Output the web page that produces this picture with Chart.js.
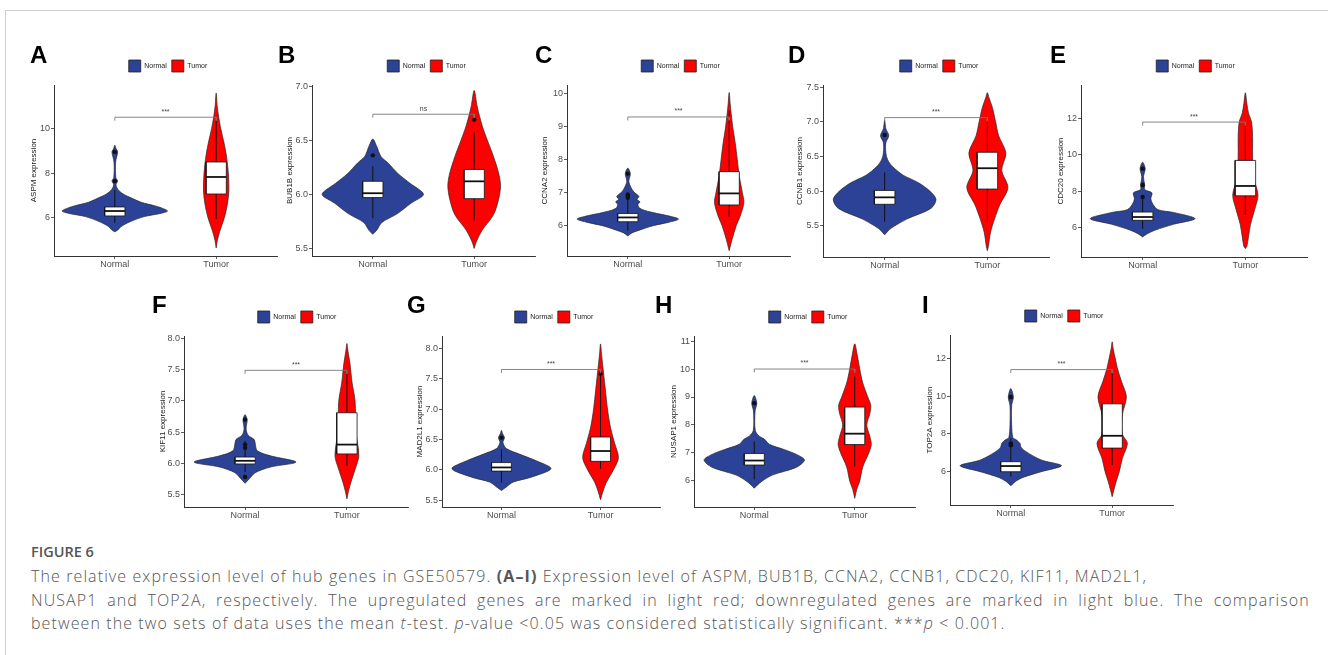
<!DOCTYPE html>
<html>
<head>
<meta charset="utf-8">
<title>Figure 6 - hub gene expression</title>
<script src="https://cdn.jsdelivr.net/npm/chart.js"></script>
<style>
  body { margin: 0; background: #fff; width: 1328px; height: 655px; position: relative; overflow: hidden; }
  .frame { position: absolute; left: 5px; top: 10px; right: 0; bottom: 0; border-top: 1px solid #cfcfcf; border-left: 1px solid #cfcfcf; }
  canvas { position: absolute; }
  .letter { position: absolute; font: bold 24px/1 "Liberation Sans", Arial, sans-serif; color: #000; }
  .caption { position: absolute; left: 31px; font-family: "Open Sans", sans-serif; color: #555; white-space: nowrap; }
  .fig { top: 545px; font-size: 14.5px; line-height: 1; font-weight: 600; }
  .line { font-size: 16px; line-height: 23.5px; font-weight: 300; letter-spacing: 1.1px; }
</style>
</head>
<body>
<div class="frame"></div>
<div class="caption fig">FIGURE 6</div>
<div class="caption line" style="top:565px">The relative expression level of hub genes in GSE50579. <b style="font-weight:700">(A–I)</b> Expression level of ASPM, BUB1B, CCNA2, CCNB1, CDC20, KIF11, MAD2L1,</div>
<div class="caption line" style="top:588.5px; word-spacing:4.4px">NUSAP1 and TOP2A, respectively. The upregulated genes are marked in light red; downregulated genes are marked in light blue. The comparison</div>
<div class="caption line" style="top:612px">between the two sets of data uses the mean <i>t</i>-test. <i>p</i>-value &lt;0.05 was considered statistically significant. ***<i>p</i> &lt; 0.001.</div>

<script>
// ---- data ----
const genes = ['ASPM', 'BUB1B', 'CCNA2', 'CCNB1', 'CDC20', 'KIF11', 'MAD2L1', 'NUSAP1', 'TOP2A'];
const letters = ['A', 'B', 'C', 'D', 'E', 'F', 'G', 'H', 'I'];
const groups = ['Normal', 'Tumor'];

const yRanges = [[4.30, 11.94], [5.43, 7.01], [5.08, 10.27], [5.05, 7.53], [4.41, 13.83],
                 [5.30, 8.04], [5.39, 8.20], [5.07, 11.18], [4.24, 13.23]];
const yTicks = [[6, 8, 10], [5.5, 6.0, 6.5, 7.0], [6, 7, 8, 9, 10], [5.5, 6.0, 6.5, 7.0, 7.5], [6, 8, 10, 12],
                [5.5, 6.0, 6.5, 7.0, 7.5, 8.0], [5.5, 6.0, 6.5, 7.0, 7.5, 8.0], [6, 7, 8, 9, 10, 11], [6, 8, 10, 12]];
const tickDecimals = [0, 1, 0, 1, 0, 1, 1, 0, 0];

// violin outlines: [expression, half width in category units]
const normalViolins = [
  [[5.38,0],[5.46,0.03],[5.61,0.06],[5.83,0.15],[6.06,0.29],[6.2,0.45],[6.31,0.52],[6.45,0.46],[6.55,0.39],[6.7,0.26],[6.9,0.16],[7.05,0.09],[7.2,0.045],[7.35,0.02],[7.5,0.012],[7.65,0.028],[7.8,0.01],[8.5,0.008],[8.95,0.028],[9.1,0.012],[9.25,0]],
  [[5.63,0],[5.67,0.04],[5.74,0.09],[5.82,0.24],[5.92,0.38],[6.0,0.5],[6.1,0.37],[6.19,0.25],[6.29,0.15],[6.35,0.08],[6.44,0.04],[6.51,0]],
  [[5.69,0],[5.78,0.04],[5.85,0.1],[6.0,0.25],[6.1,0.4],[6.2,0.5],[6.3,0.4],[6.37,0.29],[6.47,0.16],[6.55,0.11],[6.65,0.1],[6.72,0.12],[6.8,0.09],[6.88,0.11],[6.95,0.09],[7.02,0.06],[7.17,0.03],[7.35,0.01],[7.58,0.025],[7.75,0]],
  [[5.37,0],[5.45,0.05],[5.5,0.1],[5.6,0.22],[5.75,0.45],[5.88,0.5],[6.0,0.44],[6.12,0.33],[6.23,0.18],[6.35,0.08],[6.45,0.03],[6.55,0.012],[6.7,0.012],[6.8,0.04],[6.9,0.012],[7.02,0]],
  [[5.51,0],[5.7,0.05],[5.88,0.12],[6.2,0.3],[6.51,0.51],[6.85,0.3],[7.0,0.15],[7.3,0.1],[7.6,0.08],[7.92,0.09],[8.1,0.02],[8.35,0.02],[8.8,0.008],[9.25,0.025],[9.6,0]],
  [[5.68,0],[5.75,0.04],[5.85,0.1],[5.94,0.25],[6.02,0.5],[6.12,0.25],[6.2,0.12],[6.31,0.1],[6.38,0.09],[6.45,0.03],[6.55,0.01],[6.7,0.02],[6.78,0]],
  [[5.66,0],[5.72,0.05],[5.8,0.12],[5.88,0.3],[6.02,0.5],[6.15,0.35],[6.26,0.18],[6.35,0.05],[6.45,0.015],[6.53,0.03],[6.6,0.01],[6.65,0]],
  [[5.74,0],[5.85,0.03],[6.0,0.08],[6.21,0.18],[6.49,0.42],[6.75,0.5],[6.95,0.42],[7.12,0.3],[7.31,0.15],[7.5,0.1],[7.6,0.05],[7.8,0.01],[8.5,0.008],[8.78,0.025],[9.05,0]],
  [[5.26,0],[5.5,0.05],[5.7,0.12],[6.0,0.3],[6.32,0.5],[6.62,0.3],[7.06,0.15],[7.3,0.1],[7.5,0.09],[7.7,0.05],[7.8,0.02],[8.5,0.008],[9.5,0.008],[9.95,0.025],[10.4,0]]
];
const tumorViolins = [
  [[4.66,0],[5.0,0.012],[5.4,0.035],[6.0,0.08],[6.6,0.11],[7.2,0.125],[8.0,0.12],[8.8,0.1],[9.4,0.075],[10.0,0.045],[10.5,0.025],[11.0,0.01],[11.58,0]],
  [[5.5,0],[5.56,0.02],[5.67,0.08],[5.81,0.19],[5.95,0.24],[6.08,0.26],[6.2,0.24],[6.35,0.19],[6.5,0.13],[6.63,0.08],[6.81,0.03],[6.96,0]],
  [[5.24,0],[5.6,0.03],[6.0,0.07],[6.3,0.11],[6.7,0.145],[7.0,0.13],[7.5,0.1],[8.0,0.08],[8.5,0.06],[9.0,0.035],[9.4,0.02],[9.7,0.01],[10.04,0]],
  [[5.14,0],[5.2,0.01],[5.4,0.03],[5.6,0.07],[5.8,0.12],[6.05,0.2],[6.3,0.14],[6.55,0.18],[6.8,0.11],[7.0,0.08],[7.2,0.05],[7.35,0.015],[7.42,0]],
  [[4.87,0],[5.0,0.015],[5.5,0.03],[6.2,0.05],[7.0,0.09],[7.8,0.123],[8.8,0.08],[10.0,0.07],[11.0,0.07],[11.8,0.06],[12.3,0.03],[12.8,0.015],[13.4,0]],
  [[5.43,0],[5.55,0.015],[5.7,0.04],[5.9,0.08],[6.12,0.117],[6.5,0.09],[7.0,0.08],[7.3,0.05],[7.6,0.03],[7.8,0.01],[7.92,0]],
  [[5.51,0],[5.65,0.025],[5.8,0.06],[6.0,0.13],[6.2,0.18],[6.45,0.14],[6.7,0.1],[7.0,0.07],[7.3,0.05],[7.6,0.03],[7.9,0.01],[8.07,0]],
  [[5.38,0],[5.7,0.02],[6.0,0.05],[6.5,0.08],[7.0,0.14],[7.3,0.165],[7.6,0.15],[8.0,0.12],[8.4,0.15],[8.7,0.16],[9.0,0.13],[9.5,0.08],[10.0,0.05],[10.5,0.025],[10.9,0]],
  [[4.68,0],[5.0,0.015],[5.5,0.04],[6.0,0.07],[6.7,0.1],[7.5,0.15],[8.0,0.1],[9.0,0.1],[9.96,0.14],[10.8,0.09],[11.5,0.05],[12.0,0.03],[12.5,0.01],[12.87,0]]
];

// boxplots: [lower whisker, Q1, median, Q3, upper whisker]
const normalBoxes = [[5.78,6.09,6.31,6.49,7.25], [5.78,5.97,6.01,6.12,6.26], [5.85,6.12,6.25,6.37,7.0],
                     [5.56,5.81,5.91,6.01,6.27], [5.96,6.42,6.6,6.87,7.6], [5.86,5.99,6.04,6.1,6.36],
                     [5.79,5.98,6.04,6.12,6.34], [6.06,6.57,6.73,6.98,7.41], [5.74,6.0,6.3,6.53,7.77]];
const tumorBoxes = [[5.95,7.07,7.83,8.5,10.5], [5.76,5.96,6.12,6.23,6.57], [6.27,6.63,6.98,7.64,9.5],
                    [5.56,6.03,6.33,6.56,6.99], [6.7,7.76,8.3,9.7,11.8], [5.96,6.15,6.3,6.81,7.49],
                    [6.02,6.14,6.31,6.54,7.56], [6.52,7.3,7.69,8.64,9.74], [6.35,7.25,7.9,9.59,11.2]];
const normalOutliers = [[7.65, 8.95], [6.36], [6.85, 6.9, 6.95, 7.58], [6.81], [7.7, 8.35, 9.25],
                        [5.78, 6.25, 6.3, 6.7], [6.53], [8.78], [7.4, 7.5, 9.95]];
const tumorOutliers = [[], [6.69], [], [], [], [], [7.58], [], []];

const bracketY = [10.5, 6.74, 9.3, 7.06, 11.8, 7.49, 7.65, 10.0, 11.4];
const signif = ['***', 'ns', '***', '***', '***', '***', '***', '***', '***'];

// ---- layout (page pixels) ----
const plotRects = [[54,85,277,256], [312,85,535,256], [567,85,790,256], [823,85,1049,257], [1081,85,1307,257],
                   [184,336,408,507], [442,336,660,507], [694,336,915,507], [950,335,1173,505]];
const rightPad = [55, 56, 54, 56, 53, 52, 56, 57, 55];
const titleGap = [20.5, 22, 22, 23, 20.3, 21.3, 22, 20.7, 20];
const letterPos = [[30,43],[278,43],[535,43],[788,43],[1050,43],[152,293],[407,293],[655,293],[922,293]];
const groupColors = ['#2b4296', '#ff0000'];
const FONT = '"Liberation Sans", Arial, sans-serif';

Chart.defaults.font.family = FONT;

const signifLabel = {
  id: 'signifLabel',
  afterDatasetsDraw(chart, args, opts) {
    const {ctx, scales: {x, y}} = chart;
    ctx.save();
    ctx.font = '7px ' + FONT;
    ctx.fillStyle = '#444';
    ctx.textAlign = 'center';
    ctx.textBaseline = 'bottom';
    ctx.fillText(opts.text, x.getPixelForValue(1.5), y.getPixelForValue(opts.value) - 2);
    ctx.restore();
  }
};

function violinPath(profile, c) {
  const right = profile.map(p => ({x: c + p[1], y: p[0]}));
  const left = profile.slice(1, -1).reverse().map(p => ({x: c - p[1], y: p[0]}));
  const pts = right.concat(left);
  pts.push(pts[0]);
  return pts;
}

function boxPath(b, c) {
  const w = 0.1;
  return [{x: c - w, y: b[1]}, {x: c + w, y: b[1]}, {x: c + w, y: b[3]}, {x: c - w, y: b[3]}, {x: c - w, y: b[1]}];
}

function panelDatasets(i) {
  const ds = [];
  const vio = [normalViolins[i], tumorViolins[i]];
  const box = [normalBoxes[i], tumorBoxes[i]];
  const outl = [normalOutliers[i], tumorOutliers[i]];
  const base = {pointRadius: 0, tension: 0, fill: false, borderColor: '#111', borderWidth: 0.8};
  [0, 1].forEach(g => {
    const c = g + 1;
    ds.push(Object.assign({}, base, {data: violinPath(vio[g], c), fill: 'shape', backgroundColor: groupColors[g],
      borderColor: '#262626', borderWidth: 0.7, tension: 0.3, order: 6}));
    ds.push(Object.assign({}, base, {data: [{x: c, y: box[g][0]}, {x: c, y: box[g][4]}], borderWidth: 1, order: 5}));
    ds.push(Object.assign({}, base, {data: boxPath(box[g], c), fill: 'shape', backgroundColor: '#fff', order: 4}));
    ds.push(Object.assign({}, base, {data: [{x: c - 0.1, y: box[g][2]}, {x: c + 0.1, y: box[g][2]}], borderWidth: 1.8, order: 3}));
    ds.push(Object.assign({}, base, {data: outl[g].map(v => ({x: c, y: v})), showLine: false, pointRadius: 2.2,
      pointBackgroundColor: '#111', pointBorderWidth: 0, order: 2}));
  });
  const tip = 0.02 * (yRanges[i][1] - yRanges[i][0]);
  const by = bracketY[i];
  ds.push(Object.assign({}, base, {data: [{x: 1, y: by - tip}, {x: 1, y: by}, {x: 2, y: by}, {x: 2, y: by - tip}],
    borderColor: '#777', borderWidth: 0.9, order: 1}));
  return ds;
}

function makePanel(i) {
  const r = plotRects[i];
  const w = 50 + (r[2] - r[0]) + rightPad[i];
  const h = 30 + (r[3] - r[1]) + 20;
  const canvas = document.createElement('canvas');
  canvas.width = w; canvas.height = h;
  canvas.style.left = (r[0] - 50) + 'px';
  canvas.style.top = (r[1] - 30) + 'px';
  canvas.style.width = w + 'px';
  canvas.style.height = h + 'px';
  document.body.appendChild(canvas);

  const letter = document.createElement('div');
  letter.className = 'letter';
  letter.textContent = letters[i];
  letter.style.left = letterPos[i][0] + 'px';
  letter.style.top = letterPos[i][1] + 'px';
  document.body.appendChild(letter);

  const axisGrid = {display: true, drawOnChartArea: false, drawTicks: true, tickLength: 3, color: '#333', lineWidth: 0.8};
  new Chart(canvas, {
    type: 'line',
    data: {datasets: panelDatasets(i)},
    plugins: [signifLabel],
    options: {
      responsive: false,
      animation: false,
      events: [],
      layout: {padding: 0},
      scales: {
        x: {
          type: 'linear', min: 0.4, max: 2.6,
          grid: axisGrid,
          border: {display: true, color: '#333', width: 1},
          afterBuildTicks: s => { s.ticks = groups.map((g, k) => ({value: k + 1})); },
          afterFit: s => { s.height = 20; },
          ticks: {autoSkip: false, maxRotation: 0, padding: 0, color: '#4d4d4d', font: {size: 9},
                  callback: v => groups[v - 1]}
        },
        y: {
          type: 'linear', position: 'left', min: yRanges[i][0], max: yRanges[i][1],
          grid: axisGrid,
          border: {display: true, color: '#333', width: 1},
          afterBuildTicks: s => { s.ticks = yTicks[i].map(v => ({value: v})); },
          afterFit: s => { s.width = 50; },
          ticks: {padding: 1, color: '#4d4d4d', font: {size: 9}, callback: v => Number(v).toFixed(tickDecimals[i])},
          title: {display: true, text: genes[i] + ' expression', color: '#1a1a1a', font: {size: 8},
                  padding: {top: 50 - titleGap[i] - 4.8, bottom: 0}}
        },
        yR: {
          type: 'linear', position: 'right', display: true,
          grid: {display: false}, border: {display: false}, ticks: {display: false},
          afterFit: s => { s.width = rightPad[i]; }
        }
      },
      plugins: {
        title: {display: true, text: '', weight: 500, font: {size: 1, lineHeight: 1}, padding: {top: 2, bottom: 0}},
        tooltip: {enabled: false},
        legend: {
          display: true, position: 'top', align: 'center',
          labels: {
            boxWidth: 12, boxHeight: 12, padding: 5, font: {size: 7},
            generateLabels: () => groups.map((g, k) => ({text: g, fillStyle: groupColors[k], strokeStyle: '#222',
              lineWidth: 0.8, hidden: false, datasetIndex: k, fontColor: '#222'}))
          }
        },
        signifLabel: {text: signif[i], value: bracketY[i]}
      }
    }
  });
}

genes.forEach((g, i) => makePanel(i));
</script>
</body>
</html>
